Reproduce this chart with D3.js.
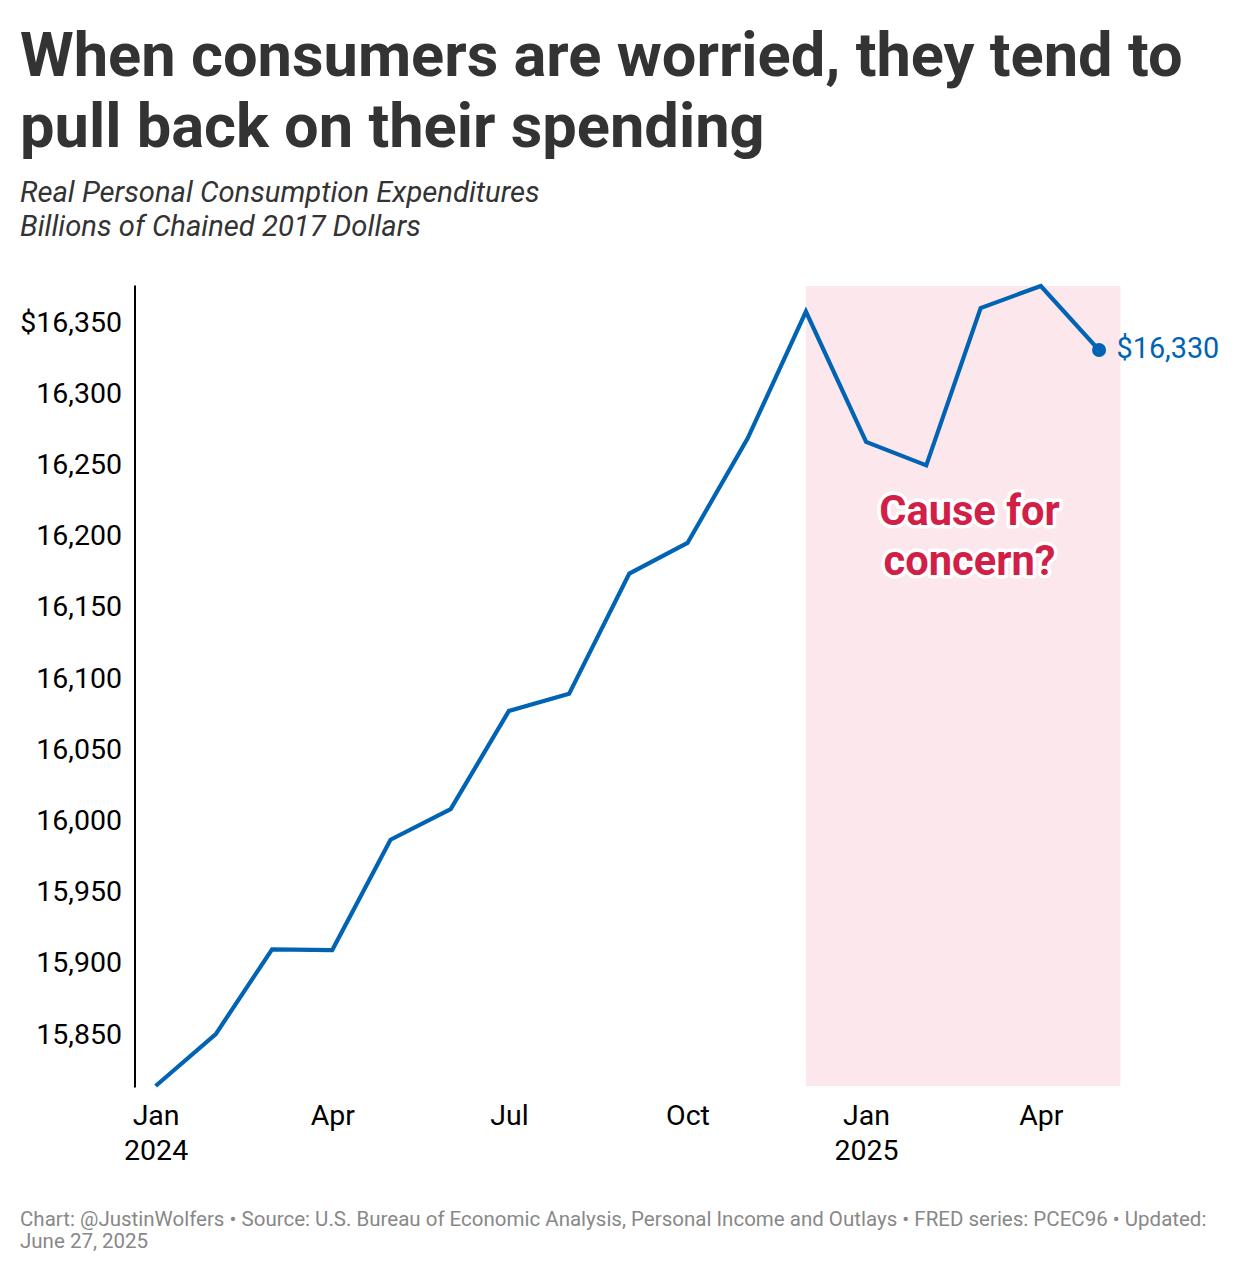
<!DOCTYPE html>
<html>
<head>
<meta charset="utf-8">
<script src="https://cdn.jsdelivr.net/npm/d3@7"></script>
<style>
  html, body { margin: 0; padding: 0; background: #fff; }
  svg text { font-family: Roboto, sans-serif; }
</style>
</head>
<body>
<svg id="chart" width="1240" height="1272"></svg>
<script>
const titleLines = ["When consumers are worried, they tend to", "pull back on their spending"];
const subtitleLines = ["Real Personal Consumption Expenditures", "Billions of Chained 2017 Dollars"];
const footerLines = [
  "Chart: @JustinWolfers • Source: U.S. Bureau of Economic Analysis, Personal Income and Outlays • FRED series: PCEC96 • Updated:",
  "June 27, 2025"
];
const months = ["2024-01-01","2024-02-01","2024-03-01","2024-04-01","2024-05-01","2024-06-01","2024-07-01","2024-08-01","2024-09-01","2024-10-01","2024-11-01","2024-12-01","2025-01-01","2025-02-01","2025-03-01","2025-04-01","2025-05-01"];
const spending = [15813,15849.5,15909,15908.5,15986,16007.5,16076.5,16088.5,16173,16194.5,16268,16357,16265.5,16249,16359.5,16375,16330];
const yTicks = [15850,15900,15950,16000,16050,16100,16150,16200,16250,16300,16350];
const xTicks = ["2024-01-01","2024-04-01","2024-07-01","2024-10-01","2025-01-01","2025-04-01"];
const xTickLabels = [["Jan","2024"],["Apr"],["Jul"],["Oct"],["Jan","2025"],["Apr"]];
const shadeRange = ["2024-12-01","2025-05-12"];
const xDomain = ["2023-12-22","2025-05-12"];
const yDomain = [15813,16375];
const endLabel = "$16,330";
const noteLines = ["Cause for","concern?"];

const blue = "#0063b4", red = "#d21f47", pink = "#fbe7ec", ink = "#333333", grey = "#888888";
const parse = d3.utcParse("%Y-%m-%d");
const svg = d3.select("#chart");

const x = d3.scaleUtc().domain(xDomain.map(parse)).range([136.2,1120.4]);
const y = d3.scaleLinear().domain(yDomain).range([1086,286]);

// header
svg.append("g").selectAll("text").data(titleLines).join("text")
  .attr("x",20).attr("y",(d,i)=>76+i*71)
  .attr("font-size",61.4).attr("font-weight",700).attr("fill",ink)
  .text(d=>d);
svg.append("g").selectAll("text").data(subtitleLines).join("text")
  .attr("x",20).attr("y",(d,i)=>202+i*34)
  .attr("font-size",29.2).attr("font-style","italic").attr("fill",ink)
  .text(d=>d);

// shaded period
svg.append("rect")
  .attr("x",x(parse(shadeRange[0]))).attr("y",y.range()[1])
  .attr("width",x(parse(shadeRange[1]))-x(parse(shadeRange[0])))
  .attr("height",y.range()[0]-y.range()[1])
  .attr("fill",pink);

// axes
const yAxis = d3.axisLeft(y).tickValues(yTicks).tickSize(0).tickPadding(12.5)
  .tickFormat(d=> (d===16350?"$":"")+d3.format(",")(d));
const yG = svg.append("g").attr("transform","translate(134.5,0)").call(yAxis);
yG.select(".domain").attr("stroke","#000").attr("stroke-width",2).attr("stroke-linecap","square");
yG.selectAll("text").attr("font-size",28.5).attr("fill","#000").attr("dy","0.34em");

const xAxis = d3.axisBottom(x).tickValues(xTicks.map(parse)).tickSize(0).tickFormat("");
const xG = svg.append("g").attr("transform","translate(0,1086)").call(xAxis);
xG.select(".domain").remove();
xG.selectAll(".tick text")
  .attr("font-size",28.5).attr("fill","#000").attr("y",0).attr("dy",0)
  .each(function(d,i){
    d3.select(this).selectAll("tspan").data(xTickLabels[i]).join("tspan")
      .attr("x",0).attr("y",(t,j)=>39+j*35).text(t=>t);
  });

// series
const line = d3.line().x((d,i)=>x(parse(months[i]))).y(d=>y(d));
svg.append("path").datum(spending)
  .attr("d",line).attr("fill","none").attr("stroke",blue).attr("stroke-width",4.2).attr("stroke-linejoin","miter");

const last = spending.length-1;
svg.append("circle")
  .attr("cx",x(parse(months[last]))).attr("cy",y(spending[last])).attr("r",7).attr("fill",blue);
svg.append("text")
  .attr("x",x(parse(months[last]))+17.5).attr("y",y(spending[last])+8)
  .attr("font-size",28.8).attr("fill",blue).text(endLabel);

// annotation
svg.append("g").selectAll("text").data(noteLines).join("text")
  .attr("x",969.5).attr("y",(d,i)=>524.5+i*50)
  .attr("text-anchor","middle").attr("font-size",41.6).attr("font-weight",700)
  .attr("fill",red).attr("stroke","#fff").attr("stroke-width",7).attr("stroke-linejoin","round")
  .attr("paint-order","stroke")
  .text(d=>d);

// footer
svg.append("g").selectAll("text").data(footerLines).join("text")
  .attr("x",20).attr("y",(d,i)=>1226+i*22)
  .attr("font-size",20.5).attr("fill",grey)
  .text(d=>d);
</script>
</body>
</html>
